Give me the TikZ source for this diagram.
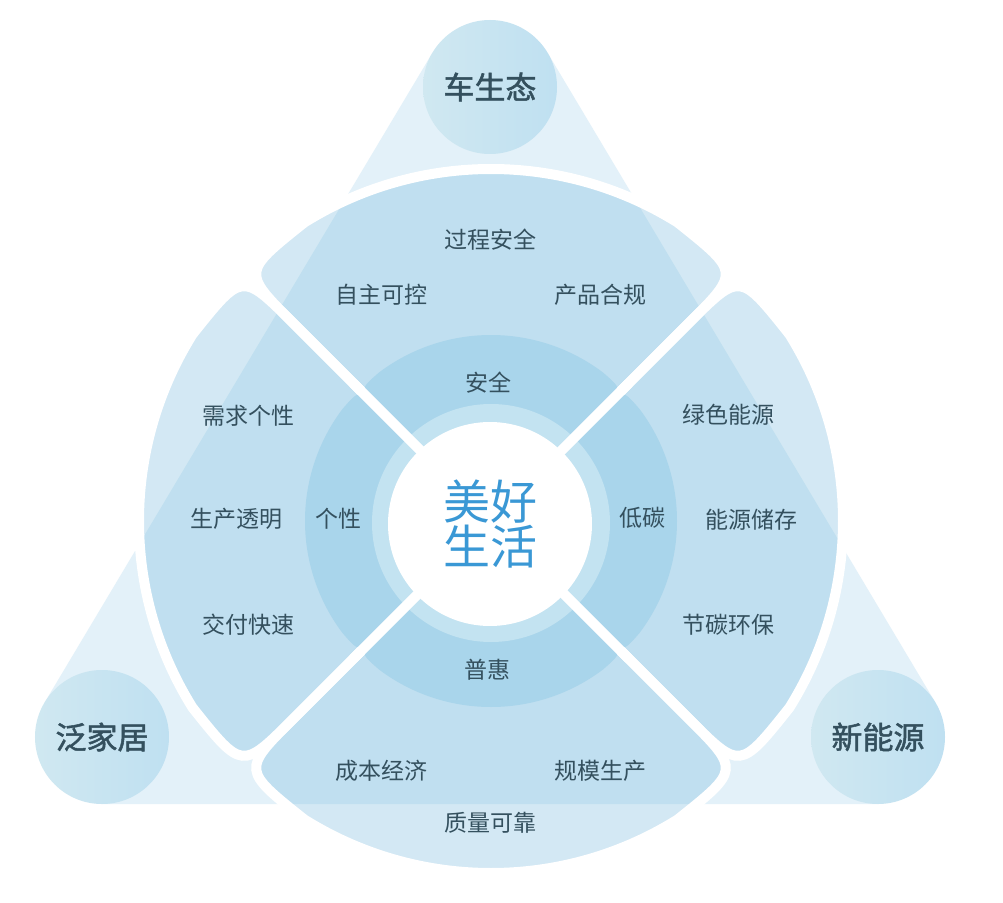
\documentclass[tikz,border=0pt]{standalone}
\usepackage{fontspec}
\setmainfont{Noto Sans CJK SC}
\newfontfamily\vtxfont{Noto Sans CJK SC}[FakeBold=1.6]
\usepackage{xcolor}
\usepackage{tikz}
\usetikzlibrary{shapes}

\definecolor{txt}{HTML}{34505E}
\definecolor{tri}{HTML}{E3F1F9}
\definecolor{vtxL}{HTML}{D0E8F1}
\definecolor{vtxR}{HTML}{BFE0F1}
\definecolor{petalblue}{HTML}{7ABCDE}
\definecolor{midC}{HTML}{A9D5EB}
\definecolor{haloC}{HTML}{C3E3F1}
\definecolor{goodC}{HTML}{3A98D5}

\begin{document}
\begin{tikzpicture}[x=1pt, y=1pt,
  lbl/.style={text=txt, font=\fontsize{23}{28}\selectfont},
  vtx/.style={circle, minimum size=134pt, inner sep=0pt, left color=vtxL, right color=vtxR,
    text=txt, font=\vtxfont\fontsize{31}{36}\selectfont},
  petal/.style={fill=petalblue, fill opacity=.33, draw=white, line width=10pt},
  midring/.style={fill=midC},
  gap/.style={draw=white, line width=10pt}]

% Canvas
\fill[white] (-491,-381) rectangle (512,521);
\useasboundingbox (-491,-381) rectangle (512,521);

% Background triangle
\fill[tri] (-446.5,-181.7) -- (-58.5,468.3) -- (56.5,468.3) -- (444.5,-181.7) -- (387,-283) -- (-389,-283) -- cycle;

% Corner circles
\node[vtx] (carEco) at (-1,434) {车生态};
\node[vtx] (home) at (-389,-216) {泛家居};
\node[vtx] (newEnergy) at (387,-216) {新能源};

% Outer petals
\filldraw[petal] (0,0) -- (135:280) .. controls (135:352) .. (122:352) arc[start angle=122, end angle=58, radius=352] .. controls (45:352) .. (45:280) -- cycle;
\filldraw[petal] (0,0) -- (45:280) .. controls (45:352) .. (32:352) arc[start angle=32, end angle=-32, radius=352] .. controls (-45:352) .. (-45:280) -- cycle;
\filldraw[petal] (0,0) -- (-45:280) .. controls (-45:352) .. (-58:352) arc[start angle=-58, end angle=-122, radius=352] .. controls (-135:352) .. (-135:280) -- cycle;
\filldraw[petal] (0,0) -- (225:280) .. controls (225:352) .. (212:352) arc[start angle=212, end angle=148, radius=352] .. controls (135:352) .. (135:280) -- cycle;

% Middle ring
\fill[midring] (0,0) -- (135:160) .. controls (135:186) .. (127:186) arc[start angle=127, end angle=53, radius=186] .. controls (45:186) .. (45:160) -- cycle;
\fill[midring] (0,0) -- (45:160) .. controls (45:186) .. (37:186) arc[start angle=37, end angle=-37, radius=186] .. controls (-45:186) .. (-45:160) -- cycle;
\fill[midring] (0,0) -- (-45:160) .. controls (-45:186) .. (-53:186) arc[start angle=-53, end angle=-127, radius=186] .. controls (-135:186) .. (-135:160) -- cycle;
\fill[midring] (0,0) -- (225:160) .. controls (225:186) .. (217:186) arc[start angle=217, end angle=143, radius=186] .. controls (135:186) .. (135:160) -- cycle;

% Halo
\fill[haloC] (0,-2) circle (119);

% Gaps
\draw[gap] (135:195) -- (-45:195);
\draw[gap] (45:195) -- (225:195);

% Centre
\node[circle, fill=white, minimum size=204pt, inner sep=0pt, align=center, text=goodC,
  font=\fontsize{47}{45}\selectfont] (goodlife) at (-1,-3) {美好\\生活};

% Labels
\node[lbl] (procsafe) at (-1,281) {过程安全};
\node[lbl] (autonomy) at (-109,226) {自主可控};
\node[lbl] (compliance) at (109,226) {产品合规};
\node[lbl] (safety) at (-3,138) {安全};

\node[lbl] (demand) at (-242,105) {需求个性};
\node[lbl] (transparency) at (-254,2) {生产透明};
\node[lbl] (individual) at (-152,2) {个性};
\node[lbl] (delivery) at (-242,-104) {交付快速};

\node[lbl] (greenenergy) at (237,106) {绿色能源};
\node[lbl] (lowcarbon) at (151,3) {低碳};
\node[lbl] (storage) at (260,1) {能源储存};
\node[lbl] (savecarbon) at (237,-104) {节碳环保};

\node[lbl] (inclusive) at (-4,-149) {普惠};
\node[lbl] (costecon) at (-109,-250) {成本经济};
\node[lbl] (scale) at (109,-250) {规模生产};
\node[lbl] (quality) at (-1,-302) {质量可靠};

\end{tikzpicture}
\end{document}
